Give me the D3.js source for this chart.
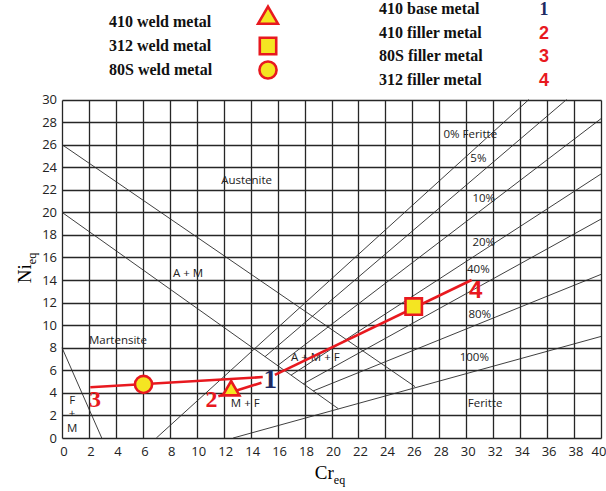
<!DOCTYPE html>
<html>
  <head>
    <meta charset="utf-8" />
    <title>Schaeffler diagram</title>
    <script src="https://d3js.org/d3.v7.min.js"></script>
    <style>
      body { margin: 0; background: #fff; }
      .grid line { stroke: #262626; stroke-width: 1.3; }
      .phase { stroke: #2a2a2a; stroke-width: 0.9; fill: none; }
      .tick-label { font-family: "Open Sans", sans-serif; font-size: 13px; fill: #222; }
      .region { font-family: "Open Sans", sans-serif; font-size: 11.5px; fill: #222; }
      .legend { font-family: "Liberation Serif", serif; font-weight: bold; font-size: 16px; fill: #111; }
      .tie { stroke: #e8191f; stroke-width: 2.6; fill: none; }
      .marker { fill: #f4e522; stroke: #e8191f; stroke-width: 2.6; }
    </style>
  </head>
  <body>
    <svg id="chart" width="606" height="491"></svg>

    <script>
      const width = 606;
      const height = 491;
      const margin = { top: 99.5, right: 5, bottom: 53, left: 62 };

      // axis ticks
      const xTicks = d3.range(0, 41, 2);
      const yTicks = d3.range(0, 31, 2);

      // phase boundary lines [x1, y1, x2, y2] in Cr_eq / Ni_eq
      const boundaryLines = [
        [0, 26, 26.2, 4.55],      // austenite limit
        [0, 20, 20.5, 2.6],       // A+M / M limit
        [0, 8, 2.95, 0],          // martensite / F+M
      ];
      // iso-ferrite lines
      const ferriteNames = ['0%', '5%', '10%', '20%', '40%', '80%', '100%'];
      const ferriteLines = [
        [7, 0, 34.65, 30],
        [15.06, 7.2, 37.45, 30],
        [16.0, 6.42, 40, 28.3],
        [17.0, 5.57, 40, 23.4],
        [17.9, 4.8, 40, 19.4],
        [18.64, 4.17, 40, 14.5],
        [12.7, 0, 40, 9.0]
      ];

      // region and ferrite labels [text, x, y]
      const regionLabels = [
        ['Austenite', 13.7, 22.9],
        ['A + M', 9.35, 14.6],
        ['Martensite', 4.15, 8.7],
        ['F', 0.75, 3.4],
        ['+', 0.75, 2.2],
        ['M', 0.75, 0.9],
        ['M + F', 13.6, 3.1],
        ['A + M + F', 18.8, 7.2],
        ['Feritte', 31.4, 3.1],
        ['0% Feritte', 30.3, 26.9],
        ['5%', 30.9, 24.8],
        ['10%', 31.3, 21.3],
        ['20%', 31.3, 17.4],
        ['40%', 30.9, 15.0],
        ['80%', 31.0, 11.0],
        ['100%', 30.6, 7.2]
      ];

      // dilution tie lines between base metal (1) and fillers (2, 3, 4)
      const tieLines = [
        [2.1, 4.5, 14.9, 5.4],
        [14.8, 4.9, 11.6, 3.7],
        [15.8, 5.6, 30.4, 14.0]
      ];

      // weld metals
      const weldNames = ['410 weld metal', '312 weld metal', '80S weld metal'];
      const weldShapes = ['triangle', 'square', 'circle'];
      const weldCr = [12.55, 26.1, 6.05];
      const weldNi = [4.2, 11.65, 4.75];

      // numbered metals
      const metalNames = ['410 base metal', '410 filler metal', '80S filler metal', '312 filler metal'];
      const metalIds = ['1', '2', '3', '4'];
      const metalColors = ['#1d2a62', '#e8191f', '#e8191f', '#e8191f'];
      const metalCr = [15.45, 11.1, 2.45, 30.7];
      const metalNi = [5.1, 3.5, 3.5, 13.1];

      const svg = d3.select('#chart');

      const x = d3.scaleLinear().domain([0, 40]).range([margin.left, width - margin.right]);
      const y = d3.scaleLinear().domain([0, 30]).range([height - margin.bottom, margin.top]);
      const px = v => Math.round(v) + 0.5;

      // grid
      const grid = svg.append('g').attr('class', 'grid');
      grid.selectAll('.v').data(xTicks).enter().append('line')
        .attr('x1', d => px(x(d))).attr('x2', d => px(x(d)))
        .attr('y1', px(y(0))).attr('y2', px(y(30)));
      grid.selectAll('.h').data(yTicks).enter().append('line')
        .attr('x1', px(x(0))).attr('x2', px(x(40)))
        .attr('y1', d => px(y(d))).attr('y2', d => px(y(d)));

      // tick labels
      svg.selectAll('.xt').data(xTicks).enter().append('text')
        .attr('class', 'tick-label')
        .attr('x', d => x(d) + (d === 40 ? -2 : 2)).attr('y', y(0) + 18)
        .attr('text-anchor', 'middle').text(d => d);
      svg.selectAll('.yt').data(yTicks).enter().append('text')
        .attr('class', 'tick-label')
        .attr('x', x(0) - 5).attr('y', d => y(d) + 4.5)
        .attr('text-anchor', 'end').text(d => d);

      // phase lines
      svg.selectAll('.phase').data(boundaryLines.concat(ferriteLines)).enter().append('line')
        .attr('class', 'phase')
        .attr('x1', d => x(d[0])).attr('y1', d => y(d[1]))
        .attr('x2', d => x(d[2])).attr('y2', d => y(d[3]));

      // region labels
      svg.selectAll('.region').data(regionLabels).enter().append('text')
        .attr('class', 'region')
        .attr('x', d => x(d[1])).attr('y', d => y(d[2]) + 4)
        .attr('text-anchor', 'middle').text(d => d[0]);

      // axis titles
      const xt = svg.append('text').attr('x', 330).attr('y', 479)
        .attr('text-anchor', 'middle')
        .style('font-family', '"Liberation Serif", serif').style('font-size', '19px');
      xt.append('tspan').text('Cr');
      xt.append('tspan').attr('dy', 5).style('font-size', '12px').text('eq');

      const yt = svg.append('text')
        .attr('transform', 'translate(31,268) rotate(-90)')
        .attr('text-anchor', 'middle')
        .style('font-family', '"Liberation Serif", serif').style('font-size', '19px');
      yt.append('tspan').text('Ni');
      yt.append('tspan').attr('dy', 5).style('font-size', '12px').text('eq');

      // tie lines
      svg.selectAll('.tie').data(tieLines).enter().append('line')
        .attr('class', 'tie')
        .attr('x1', d => x(d[0])).attr('y1', d => y(d[1]))
        .attr('x2', d => x(d[2])).attr('y2', d => y(d[3]));

      const symbol = {
        triangle: d3.symbol(d3.symbolTriangle, 120),
        square: d3.symbol(d3.symbolSquare, 270),
        circle: d3.symbol(d3.symbolCircle, 230)
      };

      // weld metal markers
      svg.selectAll('.wm').data(weldShapes).enter().append('path')
        .attr('class', 'marker')
        .attr('transform', (d, i) => `translate(${x(weldCr[i])},${y(weldNi[i])})`)
        .attr('d', d => symbol[d]());

      // numbered labels in the plot
      svg.selectAll('.num').data(metalIds).enter().append('text')
        .attr('x', (d, i) => x(metalCr[i])).attr('y', (d, i) => y(metalNi[i]) + 8)
        .attr('text-anchor', 'middle')
        .style('font-family', (d, i) => i === 3 ? '"Liberation Sans", sans-serif' : '"Liberation Serif", serif')
        .style('font-weight', 'bold')
        .style('font-size', (d, i) => i === 0 ? '27px' : '24px')
        .style('fill', (d, i) => metalColors[i])
        .text(d => d);

      // legend: weld metals
      const weldY = [22, 46, 70];
      svg.selectAll('.wl').data(weldNames).enter().append('text')
        .attr('class', 'legend')
        .attr('x', 109).attr('y', (d, i) => weldY[i] + 5).text(d => d);
      svg.selectAll('.wls').data(weldShapes).enter().append('path')
        .attr('class', 'marker')
        .attr('transform', (d, i) => `translate(268,${weldY[i] - (i === 0 ? 4 : 0)})`)
        .attr('d', (d, i) => i === 0 ? d3.symbol(d3.symbolTriangle, 170)() : symbol[d]());

      // legend: numbered metals
      const metalY = [9, 33, 56, 80];
      svg.selectAll('.ml').data(metalNames).enter().append('text')
        .attr('class', 'legend')
        .attr('x', 379).attr('y', (d, i) => metalY[i] + 5).text(d => d);
      svg.selectAll('.mn').data(metalIds).enter().append('text')
        .attr('x', 544).attr('y', (d, i) => metalY[i] + 6)
        .attr('text-anchor', 'middle')
        .style('font-family', (d, i) => i === 0 ? '"Liberation Serif", serif' : '"Liberation Sans", sans-serif')
        .style('font-weight', 'bold').style('font-size', '18px')
        .style('fill', (d, i) => metalColors[i])
        .text(d => d);
    </script>
  </body>
</html>
